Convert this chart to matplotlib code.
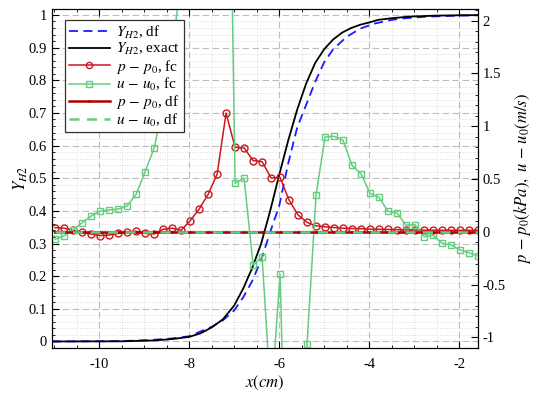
import numpy as np
import matplotlib
matplotlib.use("Agg")
import matplotlib.pyplot as plt
from matplotlib.ticker import MultipleLocator

plt.rcParams['font.family'] = ['Liberation Serif', 'DejaVu Serif']
plt.rcParams['mathtext.fontset'] = 'stix'
plt.rcParams['axes.unicode_minus'] = False

# Y_H2 profiles (left axis)
x_exact = [-11.05, -9.5, -8.8, -8.4, -8.0, -7.75, -7.5, -7.25, -7.0, -6.8, -6.6, -6.4,
           -6.2, -6.0, -5.8, -5.6, -5.4, -5.2, -5.0, -4.8, -4.6, -4.4, -4.2, -4.0,
           -3.8, -3.5, -3.1, -2.5, -2.0, -1.58]
y_exact = [0.0, 0.0005, 0.003, 0.007, 0.014, 0.025, 0.043, 0.068, 0.11, 0.162, 0.225, 0.30,
           0.40, 0.51, 0.615, 0.71, 0.79, 0.853, 0.895, 0.925, 0.946, 0.96, 0.97, 0.977,
           0.985, 0.99, 0.995, 0.998, 0.999, 0.9995]

x_df = [-11.05, -9.5, -8.8, -8.4, -8.0, -7.5, -7.25, -7.0, -6.8, -6.6, -6.4, -6.2,
        -6.0, -5.8, -5.6, -5.4, -5.2, -5.0, -4.8, -4.5, -4.2, -3.9, -3.5, -3.2,
        -2.7, -2.0, -1.58]
y_df = [0.0, 0.001, 0.005, 0.009, 0.016, 0.045, 0.065, 0.095, 0.135, 0.185, 0.25, 0.335,
        0.415, 0.545, 0.655, 0.725, 0.795, 0.855, 0.895, 0.933, 0.958, 0.973, 0.985, 0.99,
        0.995, 0.998, 0.999]

# p - p0 and u - u0 (right axis)
x_fc = [-10.98, -10.78, -10.58, -10.38, -10.18, -9.98, -9.78, -9.58, -9.38, -9.18,
        -8.98, -8.78, -8.58, -8.38, -8.18, -7.98, -7.78, -7.58, -7.38, -7.18,
        -6.98, -6.78, -6.58, -6.38, -6.18, -5.98, -5.78, -5.58, -5.38, -5.18,
        -4.98, -4.78, -4.58, -4.38, -4.18, -3.98, -3.78, -3.58, -3.38, -3.18,
        -2.98, -2.78, -2.58, -2.38, -2.18, -1.98, -1.78, -1.58]
p_fc = [0.04, 0.035, 0.015, -0.005, -0.02, -0.035, -0.03, -0.015, 0.0, 0.005,
        -0.015, -0.02, 0.025, 0.035, 0.015, 0.105, 0.215, 0.355, 0.545, 1.125,
        0.80, 0.795, 0.675, 0.665, 0.51, 0.515, 0.30, 0.16, 0.09, 0.057,
        0.048, 0.041, 0.035, 0.031, 0.03, 0.025, 0.024, 0.023, 0.021, 0.019,
        0.017, 0.016, 0.016, 0.015, 0.015, 0.015, 0.015, 0.015]
u_fc = [-0.07, -0.038, 0.02, 0.086, 0.15, 0.197, 0.208, 0.216, 0.245, 0.355,
        0.571, 0.793, 1.2, 1.7, 2.4, 3.5, 4.5, 5.5, 6.2, 6.0,
        0.46, 0.51, -0.314, -0.235, -1.6, -0.403, -3.6, -4.0, -1.06, 0.35,
        0.90, 0.905, 0.867, 0.629, 0.549, 0.365, 0.327, 0.194, 0.178, 0.064,
        0.067, -0.044, -0.032, -0.107, -0.124, -0.171, -0.197, -0.229]
p_df = [0.0] * len(x_fc)
u_df = [0.0] * len(x_fc)

red = '#c8191e'
green = '#66cc80'

fig = plt.figure(figsize=(5.4, 3.95), dpi=100)
ax = fig.add_axes([0.0963, 0.119, 0.7889, 0.858])
ax2 = ax.twinx()

h1, = ax.plot(x_df, y_df, color='#1a1aff', lw=1.3, dashes=(5, 3))
h2, = ax.plot(x_exact, y_exact, color='black', lw=1.3)

h3, = ax2.plot(x_fc, p_fc, color=red, lw=1.1, marker='o', ms=5, mfc='none', mew=1.0)
h4, = ax2.plot(x_fc, u_fc, color=green, lw=1.1, marker='s', ms=4.5, mfc='none', mew=1.0)
h5, = ax2.plot(x_fc, p_df, color='#b00000', lw=1.8, marker='.', ms=2)
h6, = ax2.plot(x_fc, u_df, color=green, lw=1.8, dashes=(4, 3))

ax.set_xlim(-11.05, -1.58)
ax.set_ylim(-0.02, 1.018)
ax2.set_ylim(-1.1, 2.11)

ax.xaxis.set_major_locator(MultipleLocator(2))
ax.xaxis.set_minor_locator(MultipleLocator(0.5))
ax.yaxis.set_major_locator(MultipleLocator(0.1))
ax.yaxis.set_minor_locator(MultipleLocator(0.02))
ax2.yaxis.set_major_locator(MultipleLocator(0.5))
ax2.yaxis.set_minor_locator(MultipleLocator(0.1))

ax.set_yticks(np.round(np.arange(0, 1.01, 0.1), 1))
ax.set_yticklabels(['0', '0.1', '0.2', '0.3', '0.4', '0.5', '0.6', '0.7', '0.8', '0.9', '1'])
ax2.set_yticks([-1, -0.5, 0, 0.5, 1, 1.5, 2])
ax2.set_yticklabels(['-1', '-0.5', '0', '0.5', '1', '1.5', '2'])

ax.grid(which='major', color='#bdbdbd', ls=(0, (6, 3)), lw=0.8)
ax.grid(which='minor', color='#d0d0d0', ls=(0, (1, 2)), lw=0.6)

ax.tick_params(which='both', direction='in', top=True, right=False, labelsize=10.5)
ax.tick_params(which='major', length=5)
ax.tick_params(which='minor', length=2.5)
ax.tick_params(axis='x', pad=7)
ax2.tick_params(which='both', direction='in', labelsize=10.5)
ax2.tick_params(which='major', length=5)
ax2.tick_params(which='minor', length=2.5)

ax.set_xlabel(r'$x(cm)$', fontsize=12, labelpad=2)
ax.set_ylabel(r'$Y_{H2}$', fontsize=12, labelpad=-1)
ax2.set_ylabel(r'$p\,-\,p_0(kPa),\ u\,-\,u_0(m/s)$', fontsize=12, labelpad=4)

labels = [r'$Y_{H2}$, df', r'$Y_{H2}$, exact', r'$p\,-\,p_0$, fc',
          r'$u\,-\,u_0$, fc', r'$p\,-\,p_0$, df', r'$u\,-\,u_0$, df']
leg = ax2.legend([h1, h2, h3, h4, h5, h6], labels, loc='upper left',
                 bbox_to_anchor=(0.03, 0.968), borderaxespad=0, fontsize=11,
                 fancybox=False, framealpha=1, edgecolor='#333333',
                 handlelength=2.7, labelspacing=0.02, borderpad=0.25,
                 handletextpad=0.4, markerscale=0.9)
leg.get_frame().set_linewidth(0.9)

fig.savefig('out.png', dpi=100)
